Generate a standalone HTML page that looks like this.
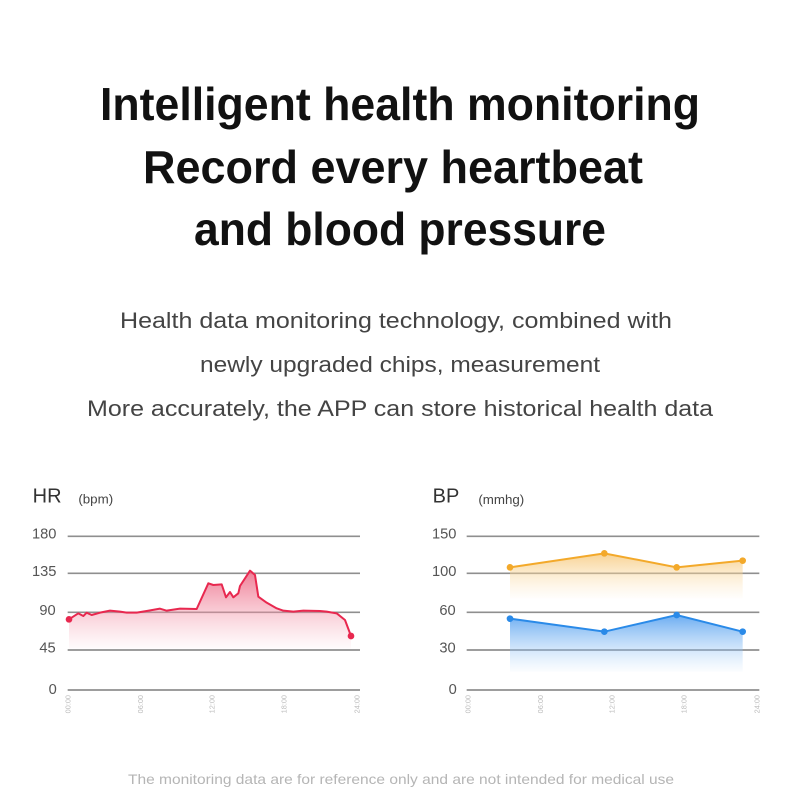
<!DOCTYPE html>
<html><head><meta charset="utf-8"><style>
html,body{margin:0;padding:0;background:#fff;}
svg{display:block;font-family:"Liberation Sans",sans-serif;}
</style></head><body>
<svg width="800" height="800" viewBox="0 0 800 800" xmlns="http://www.w3.org/2000/svg">
<defs>
<linearGradient id="gr" x1="0" y1="0" x2="0" y2="1"><stop offset="0" stop-color="#ec6f8a" stop-opacity="0.9"/><stop offset="1" stop-color="#f7a9b9" stop-opacity="0.05"/></linearGradient>
<linearGradient id="go" x1="0" y1="0" x2="0" y2="1"><stop offset="0" stop-color="#f6c777" stop-opacity="0.8"/><stop offset="1" stop-color="#fbe3bb" stop-opacity="0.05"/></linearGradient>
<linearGradient id="gb" x1="0" y1="0" x2="0" y2="1"><stop offset="0" stop-color="#5aa3f0" stop-opacity="0.9"/><stop offset="1" stop-color="#a9cff7" stop-opacity="0.05"/></linearGradient>
</defs>
<g fill="#111" font-weight="bold" font-size="46" text-anchor="middle">
<text x="400" y="120" textLength="600" lengthAdjust="spacingAndGlyphs">Intelligent health monitoring</text>
<text x="393" y="183" textLength="500" lengthAdjust="spacingAndGlyphs">Record every heartbeat</text>
<text x="400" y="245" textLength="412" lengthAdjust="spacingAndGlyphs">and blood pressure</text>
</g>
<g fill="#444" font-size="22" text-anchor="middle">
<text x="396" y="328" textLength="552" lengthAdjust="spacingAndGlyphs">Health data monitoring technology, combined with</text>
<text x="400" y="372" textLength="400" lengthAdjust="spacingAndGlyphs">newly upgraded chips, measurement</text>
<text x="400" y="416" textLength="626" lengthAdjust="spacingAndGlyphs">More accurately, the APP can store historical health data</text>
</g>
<text x="401" y="784" fill="#b5b5b5" font-size="14" text-anchor="middle" textLength="546" lengthAdjust="spacingAndGlyphs">The monitoring data are for reference only and are not intended for medical use</text>

<!-- HR chart -->
<g transform="translate(20 480) scale(0.33333)">
<text x="38" y="68" font-size="60" fill="#333">HR</text>
<text x="175" y="70" font-size="40" fill="#444">(bpm)</text>
<g stroke="#8f8f8f" stroke-width="5"><line x1="143" y1="169" x2="1020" y2="169"/><line x1="143" y1="280" x2="1020" y2="280"/><line x1="143" y1="397" x2="1020" y2="397"/><line x1="143" y1="510" x2="1020" y2="510"/><line x1="143" y1="630" x2="1020" y2="630"/></g>
<g font-size="44" fill="#555"><text x="36" y="176">180</text><text x="36" y="288">135</text><text x="58" y="405">90</text><text x="58" y="518">45</text><text x="86" y="642">0</text></g>
<path d="M147,418 L175,400 190,408 200,398 215,405 240,398 270,392 300,395 320,398 350,398 380,393 420,386 440,392 480,386 530,387 565,310 580,315 605,313 618,352 630,336 640,352 655,340 660,318 690,272 705,285 715,350 740,368 770,385 790,392 820,395 850,392 900,393 920,395 950,400 975,420 993,468 L993,505 147,505Z" fill="url(#gr)"/>
<path d="M147,418 L175,400 190,408 200,398 215,405 240,398 270,392 300,395 320,398 350,398 380,393 420,386 440,392 480,386 530,387 565,310 580,315 605,313 618,352 630,336 640,352 655,340 660,318 690,272 705,285 715,350 740,368 770,385 790,392 820,395 850,392 900,393 920,395 950,400 975,420 993,468" fill="none" stroke="#e8284f" stroke-width="6" stroke-linejoin="round"/>
<circle cx="147" cy="418" r="10" fill="#e8284f"/><circle cx="993" cy="468" r="10" fill="#e8284f"/>
<g font-size="22" fill="#bbb"><text transform="translate(152 700) rotate(-90)">00:00</text><text transform="translate(369 700) rotate(-90)">06:00</text><text transform="translate(584 700) rotate(-90)">12:00</text><text transform="translate(799 700) rotate(-90)">18:00</text><text transform="translate(1019 700) rotate(-90)">24:00</text></g>
</g>

<!-- BP chart -->
<g transform="translate(420 480) scale(0.33333)">
<text x="38" y="68" font-size="60" fill="#333">BP</text>
<text x="175" y="72" font-size="40" fill="#444">(mmhg)</text>
<g stroke="#8f8f8f" stroke-width="5"><line x1="140" y1="169" x2="1018" y2="169"/><line x1="140" y1="280" x2="1018" y2="280"/><line x1="140" y1="397" x2="1018" y2="397"/><line x1="140" y1="510" x2="1018" y2="510"/><line x1="140" y1="630" x2="1018" y2="630"/></g>
<g font-size="44" fill="#555"><text x="36" y="176">150</text><text x="36" y="288">100</text><text x="58" y="405">60</text><text x="58" y="518">30</text><text x="86" y="642">0</text></g>
<path d="M270,262 L553,220 770,262 968,242 L968,355 270,355Z" fill="url(#go)"/>
<path d="M270,262 L553,220 770,262 968,242" fill="none" stroke="#f3a92a" stroke-width="6"/>
<g fill="#f3a92a"><circle cx="270" cy="262" r="10"/><circle cx="553" cy="220" r="10"/><circle cx="770" cy="262" r="10"/><circle cx="968" cy="242" r="10"/></g>
<path d="M270,416 L553,455 770,405 968,455 L968,575 270,575Z" fill="url(#gb)"/>
<path d="M270,416 L553,455 770,405 968,455" fill="none" stroke="#2a8ae8" stroke-width="6"/>
<g fill="#2a8ae8"><circle cx="270" cy="416" r="10"/><circle cx="553" cy="455" r="10"/><circle cx="770" cy="405" r="10"/><circle cx="968" cy="455" r="10"/></g>
<g font-size="22" fill="#bbb"><text transform="translate(152 700) rotate(-90)">00:00</text><text transform="translate(369 700) rotate(-90)">06:00</text><text transform="translate(584 700) rotate(-90)">12:00</text><text transform="translate(799 700) rotate(-90)">18:00</text><text transform="translate(1019 700) rotate(-90)">24:00</text></g>
</g>
</svg>
</body></html>
